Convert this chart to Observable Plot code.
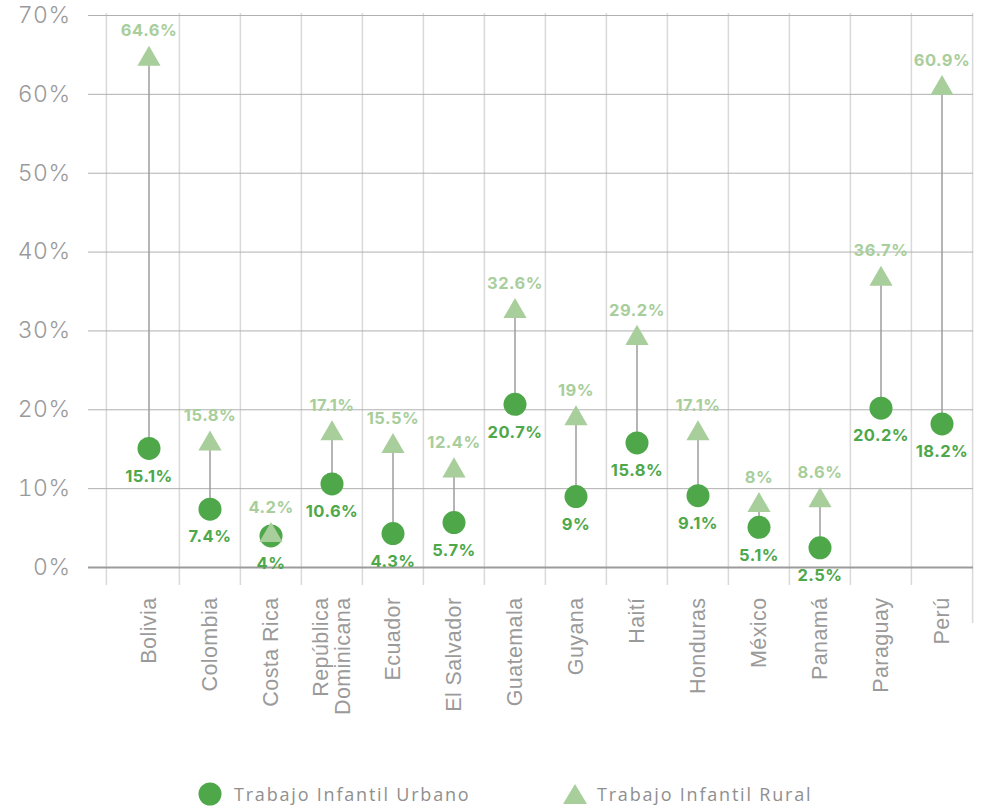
<!DOCTYPE html>
<html>
<head>
<meta charset="utf-8">
<script src="https://cdn.jsdelivr.net/npm/d3@7"></script>
<script src="https://cdn.jsdelivr.net/npm/@observablehq/plot@0.6"></script>
<style>
  body { margin: 0; background: #fff; font-family: Inter, "Open Sans", sans-serif; }
  #wrap { position: relative; width: 989px; height: 806px; }
  .legend { position: absolute; top: 782px; height: 24px; display: flex; align-items: center; font-size: 18px; letter-spacing: 1.8px; color: #8f8f8f; font-family: "Open Sans", sans-serif; }
  .legend svg { margin-right: 12px; }
  #wrap svg g[aria-label="y-axis tick label"] text { letter-spacing: 0.5px; }
  #wrap svg g[aria-label="x-axis tick label"] text { letter-spacing: 0.4px; }
  #wrap svg g[aria-label="text"] text { letter-spacing: 0.5px; }
</style>
</head>
<body>
<div id="wrap"></div>
<script>
const countries = ["Bolivia","Colombia","Costa Rica","República\nDominicana","Ecuador","El Salvador","Guatemala","Guyana","Haití","Honduras","México","Panamá","Paraguay","Perú"];
const urbano = [15.1,7.4,4,10.6,4.3,5.7,20.7,9,15.8,9.1,5.1,2.5,20.2,18.2];
const rural  = [64.6,15.8,4.2,17.1,15.5,12.4,32.6,19,29.2,17.1,8,8.6,36.7,60.9];
const yTicks = [0,10,20,30,40,50,60,70];
const seriesNames = ["Trabajo Infantil Urbano","Trabajo Infantil Rural"];

const GREEN = "#4ea84a", LIGHT = "#a8ce9c";
const data = countries.map((c,i) => ({country: c, urbano: urbano[i], rural: rural[i]}));

const W = 989, H = 770, ML = 116, MR = 16;
const bw = (W - ML - MR) / countries.length;

const chart = Plot.plot({
  width: W, height: H,
  marginTop: 15, marginBottom: 203, marginLeft: ML, marginRight: MR,
  style: {fontFamily: "Inter, sans-serif", background: "#fff"},
  x: {type: "band", domain: countries, padding: 0, label: null},
  y: {domain: [0, 70], label: null},
  marks: [
    // vertical separators
    Plot.ruleX(countries.slice(1), {x: d => d, dx: -bw/2, stroke: "#d9d9d9", strokeWidth: 1.5, insetTop: -2, insetBottom: -18}),
    Plot.ruleX([countries[0]], {x: d => d, dx: -bw/2 - 12, stroke: "#d9d9d9", strokeWidth: 1.5, insetTop: -2, insetBottom: -18}),
    Plot.ruleX([countries[countries.length-1]], {x: d => d, dx: bw/2, stroke: "#d9d9d9", strokeWidth: 1.5, insetTop: -2, insetBottom: -56}),
    // horizontal grid
    Plot.ruleY(yTicks.filter(d => d > 0), {y: d => d, stroke: "#b0b0b0", strokeWidth: 1, insetLeft: -28}),
    Plot.ruleY([0], {stroke: "#9c9c9c", strokeWidth: 2, insetLeft: -28}),
    Plot.axisY(yTicks, {tickSize: 0, tickPadding: 46, tickFormat: d => d + "%", fontSize: 23, fontWeight: 300, fontFamily: "Inter, sans-serif", fill: "#9a9a9a", textAnchor: "end"}),
    Plot.axisX({tickSize: 0, tickPadding: 30, tickRotate: -90, fontSize: 21.5, fontFamily: "Liberation Sans, Arial, sans-serif", fill: "#9a9a9a", label: null}),
    // stems
    Plot.ruleX(data, {x: "country", y1: "urbano", y2: "rural", stroke: "#9c9c9c", strokeWidth: 1.5}),
    // urban circles
    Plot.dot(data, {x: "country", y: "urbano", r: 11.5, fill: GREEN, stroke: null}),
    // rural triangles
    Plot.dot(data, {x: "country", y: "rural", symbol: "triangle", r: 8.6, fill: LIGHT, stroke: null, dy: 1}),
    // labels
    Plot.text(data, {x: "country", y: "urbano", text: d => d.urbano + "%", dy: 28, fill: GREEN, fontWeight: "bold", fontSize: 16.5}),
    Plot.text(data, {x: "country", y: "rural", text: d => d.rural + "%", dy: -27, fill: LIGHT, fontWeight: "bold", fontSize: 16.5})
  ]
});
const wrap = document.getElementById("wrap");
wrap.appendChild(chart);

const lg1 = document.createElement("div");
lg1.className = "legend"; lg1.style.left = "198px";
lg1.innerHTML = `<svg width="24" height="24"><circle cx="12" cy="12" r="11.5" fill="${GREEN}"/></svg>${seriesNames[0]}`;
const lg2 = document.createElement("div");
lg2.className = "legend"; lg2.style.left = "563px";
lg2.innerHTML = `<svg width="24" height="24"><path d="M12 2 L24 22 L0 22 Z" fill="${LIGHT}"/></svg>${seriesNames[1]}`;
lg2.querySelector("svg").style.marginRight = "10px";
wrap.appendChild(lg1); wrap.appendChild(lg2);
</script>
</body>
</html>
